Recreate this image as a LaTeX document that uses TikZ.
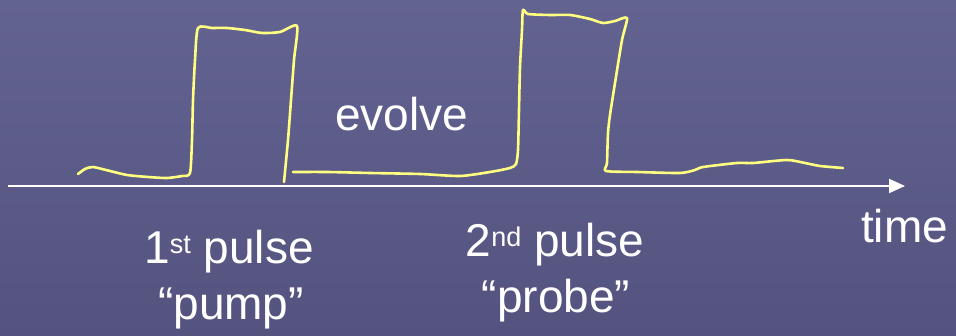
\documentclass[tikz,border=0pt]{standalone}
\usepackage{fontspec}
\setmainfont{Liberation Sans}
\usetikzlibrary{arrows.meta}
\definecolor{bgtop}{RGB}{99,99,146}
\definecolor{bgbot}{RGB}{84,83,127}
\definecolor{pulseyel}{RGB}{255,255,128}
\newcommand{\supx}[1]{\raisebox{10pt}{\fontsize{27}{30}\selectfont #1}}
\begin{document}
\begin{tikzpicture}[x=1pt,y=-1pt,
  lbl/.style={text=white,font=\fontsize{46}{52}\selectfont,inner sep=0pt},
  pulseline/.style={draw=pulseyel,line width=2.6pt,line cap=round,line join=round},
  axisline/.style={draw=white,line width=2pt,-{Triangle[length=16pt,width=14pt]}}]
\fill[top color=bgtop,bottom color=bgbot] (0,0) rectangle (956,336);
\useasboundingbox (0,0) rectangle (956,336);
% axis
\coordinate (a0) at (8,186);
\coordinate (a1) at (905,186);
\draw[axisline] (a0) -- (a1);
% pulses
\draw[pulseline] plot[smooth,tension=0.4] coordinates {(78,174) (85,169) (93,167) (110,171) (127,175) (148,177) (167,178) (182,176) (190,173) (192,140) (193,100) (195,60) (198,28) (212,28) (227,28) (245,30) (262,33) (280,32) (297,26) (294,60) (291,100) (288,140) (284,182)};
\draw[pulseline] plot[smooth,tension=0.4] coordinates {(293,172) (327,172) (370,173) (420,174) (460,176) (490,172) (510,168) (516,164) (518,150) (519,110) (520,67) (522,30) (523,10) (528,14) (550,15) (570,15) (590,19) (603,23) (615,21) (627,18) (622,40) (615,83) (610,115) (608,133) (607,163) (606,171) (637,172) (680,173) (695,170) (703,167) (737,163) (753,163) (787,160) (805,163) (820,166) (843,168)};
% labels
\node[lbl,anchor=base west] (evolve) at (335,131) {evolve};
\node[lbl,anchor=base west] (time) at (861,243) {time};
\node[lbl,anchor=base] (p1a) at (229,264) {1\supx{st} pulse};
\node[lbl,anchor=base] (p1b) at (231,320) {“pump”};
\node[lbl,anchor=base] (p2a) at (555,257) {2\supx{nd} pulse};
\node[lbl,anchor=base] (p2b) at (556,313) {“probe”};
\end{tikzpicture}
\end{document}
